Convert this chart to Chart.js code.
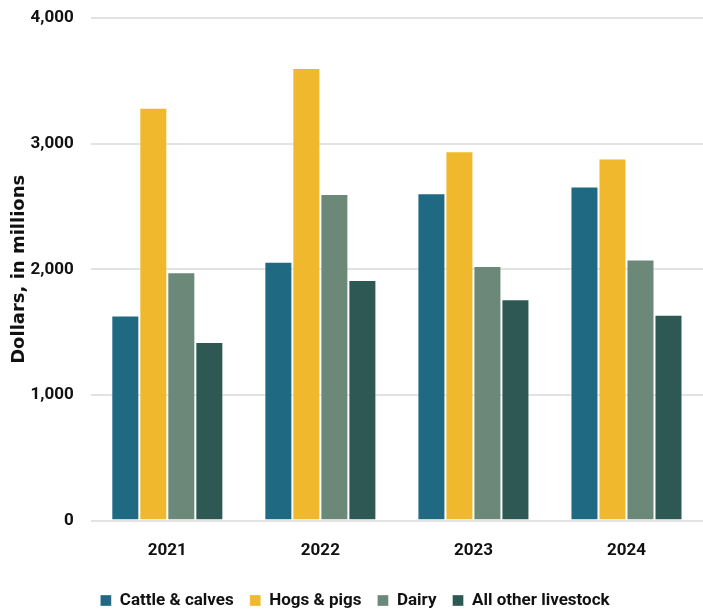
<!DOCTYPE html>
<html>
<head>
<meta charset="utf-8">
<script src="https://cdn.jsdelivr.net/npm/chart.js@4.4.1/dist/chart.umd.min.js"></script>
<style>
  html, body { margin: 0; padding: 0; background: #ffffff; }
  #wrap { width: 703px; height: 612px; position: relative; }
</style>
</head>
<body>
<div id="wrap"><canvas id="c"></canvas></div>
<script>
const years = ["2021", "2022", "2023", "2024"];
const seriesNames = ["Cattle & calves", "Hogs & pigs", "Dairy", "All other livestock"];
const cattle = [1633, 2061, 2606, 2659];
const hogs = [3285, 3602, 2940, 2882];
const dairy = [1976, 2600, 2027, 2077];
const otherLivestock = [1421, 1915, 1761, 1639];
const yTicks = [0, 1000, 2000, 3000, 4000];
const colors = ["#1f6a82", "#f0b82d", "#6b8878", "#2e5853"];
const yTitle = "Dollars, in millions";

const narrow = "Roboto, 'Liberation Sans', sans-serif";

const seriesValues = [cattle, hogs, dairy, otherLivestock];
const datasets = seriesNames.map((name, i) => ({
  label: name,
  data: seriesValues[i],
  backgroundColor: colors[i],
  borderColor: "rgba(255,255,255,0.35)",
  borderWidth: 1,
  categoryPercentage: 0.732,
  barPercentage: 1.0
}));

new Chart(document.getElementById("c"), {
  type: "bar",
  data: { labels: years, datasets: datasets },
  options: {
    responsive: true,
    maintainAspectRatio: false,
    animation: false,
    layout: { padding: { top: 18, right: 0, bottom: -7, left: 7 } },
    plugins: {
      legend: {
        position: "bottom",
        labels: {
          boxWidth: 11,
          boxHeight: 11,
          padding: 16,
          color: "#111",
          font: { family: narrow, size: 17, weight: "bold" }
        }
      },
      tooltip: { enabled: false },
      title: { display: false }
    },
    scales: {
      x: {
        grid: { display: false },
        border: { display: false },
        afterFit: (axis) => { axis.height += 3; },
        ticks: {
          color: "#111",
          padding: 12,
          font: { family: narrow, size: 17, weight: "bold" }
        }
      },
      y: {
        min: 0,
        max: 4000,
        afterBuildTicks: (axis) => { axis.ticks = yTicks.map(v => ({ value: v })); },
        afterFit: (axis) => { axis.width -= 21; axis.paddingTop = 0; },
        grid: { color: "#e2e2e2", lineWidth: 2, drawTicks: false },
        border: { display: false },
        ticks: {
          color: "#111",
          padding: 17,
          font: { family: narrow, size: 17, weight: "bold" },
          callback: (v) => Number(v).toLocaleString("en-US")
        },
        title: {
          display: true,
          text: yTitle,
          color: "#111",
          padding: { top: 2, bottom: 4 },
          font: { family: "'DejaVu Sans', sans-serif", size: 18, weight: "bold" }
        }
      }
    }
  }
});
</script>
</body>
</html>
